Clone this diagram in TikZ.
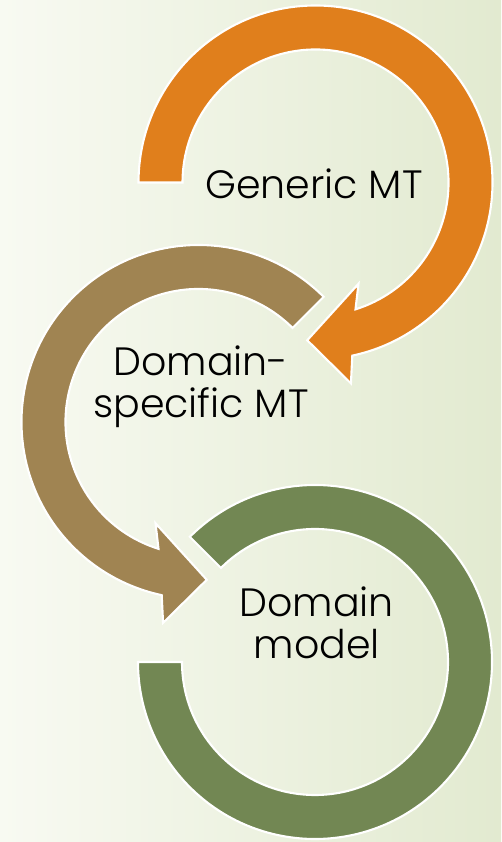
\documentclass[tikz,border=0pt]{standalone}
\usepackage{fontspec}
\setmainfont{Poppins Light}
\definecolor{orangec}{HTML}{E07F1C}
\definecolor{brownc}{HTML}{A08452}
\definecolor{greenc}{HTML}{728753}
\definecolor{bgleft}{HTML}{F8FAF2}
\definecolor{bgright}{HTML}{E2EAD0}
\begin{document}
\begin{tikzpicture}[x=0.02cm,y=0.02cm,
  ring/.style={draw=white, line width=1.2pt, line join=miter},
  lbl/.style={anchor=base, align=center, text=black, inner sep=0pt,
    font=\fontsize{22.5}{24}\selectfont}]
\shade[left color=bgleft, right color=bgright] (0,0) rectangle (501,842);
\useasboundingbox (0,0) rectangle (501,842);
\coordinate (O) at (315.5,659.5);
\coordinate (B) at (198.5,420);
\coordinate (G) at (315,180);
% orange arrow
\path[ring, fill=orangec] ([shift={(O)}]180:177) arc[start angle=180, end angle=-78, radius=177]
  -- ([shift={(O)}]-80:204) -- ([shift={(O)}]-93:158) -- ([shift={(O)}]-67:110)
  -- ([shift={(O)}]-72.5:133) arc[start angle=-72.5, end angle=180, radius=133] -- cycle;
% brown arrow
\path[ring, fill=brownc] ([shift={(B)}]45:177) arc[start angle=45, end angle=258, radius=177]
  -- ([shift={(B)}]260:204) -- ([shift={(B)}]273:158) -- ([shift={(B)}]247:110)
  -- ([shift={(B)}]252.5:133) arc[start angle=252.5, end angle=45, radius=133] -- cycle;
% green ring
\path[ring, fill=greenc] ([shift={(G)}]135:177) arc[start angle=135, end angle=-180, radius=177]
  -- ([shift={(G)}]-180:133) arc[start angle=-180, end angle=135, radius=133] -- cycle;
\node[lbl] (generic) at (314,643) {Generic MT};
\node[lbl] (dsmt) at (201,424.7) {Domain-\\specific MT};
\node[lbl] (dmodel) at (316.7,183.7) {Domain\\model};
\end{tikzpicture}
\end{document}
